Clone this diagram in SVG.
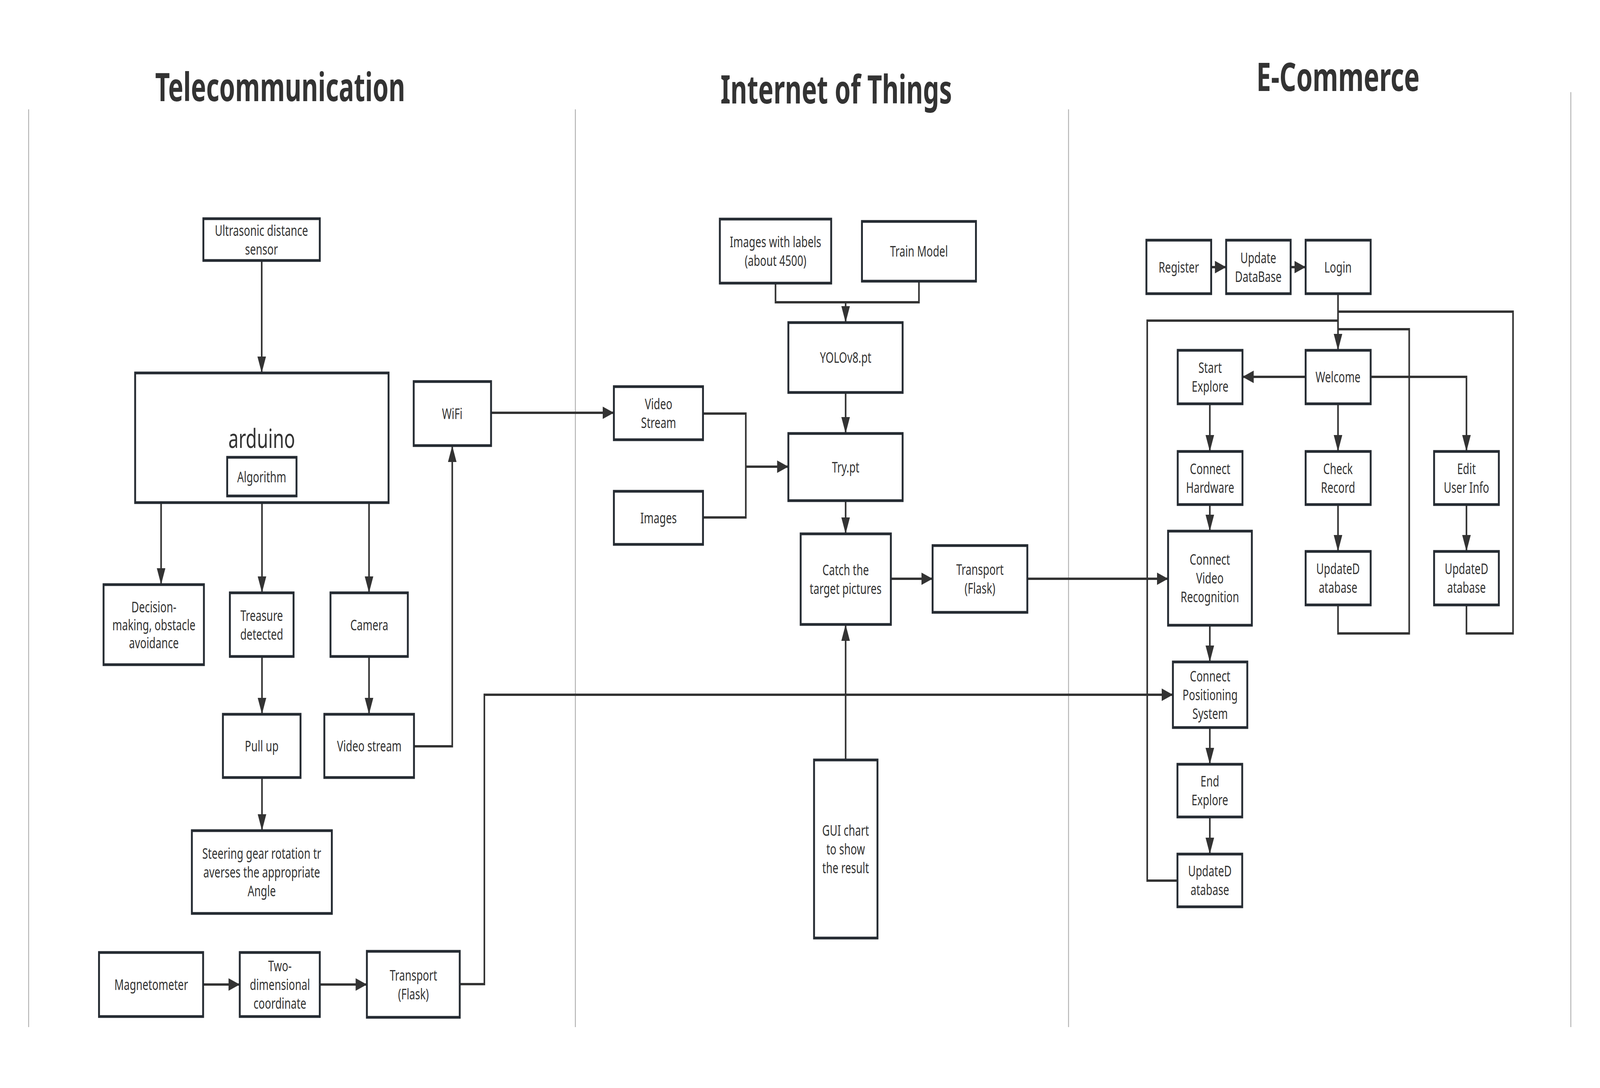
<svg xmlns="http://www.w3.org/2000/svg" width="5979" height="2786" viewBox="0 0 5979 2786" preserveAspectRatio="none" style="width:100vw;height:100vh">
<defs>
<style>
.n rect{fill:#fff;stroke:#252b32;stroke-width:7}
.t{font-family:"Noto Sans","Open Sans","DejaVu Sans",sans-serif;font-size:39px;fill:#333;text-anchor:middle}
.h{font-family:"Noto Sans","Open Sans","DejaVu Sans",sans-serif;font-size:100px;font-weight:bold;fill:#333;text-anchor:middle}
.c path{fill:none;stroke:#333;stroke-width:6}
.c .a{marker-end:url(#ar)}
.d line{stroke:#a8a8a8;stroke-width:3}
</style>
<marker id="ar" markerUnits="userSpaceOnUse" markerWidth="44" markerHeight="32" refX="42" refY="16" orient="auto">
<path d="M0,0 L42,16 L0,32 z" fill="#333"/>
</marker>
</defs>
<rect width="5979" height="2786" fill="#fff"/>

<g id="dividers" class="d">
<line x1="107" y1="280" x2="107" y2="2630"/>
<line x1="2150" y1="280" x2="2150" y2="2630"/>
<line x1="3993" y1="280" x2="3993" y2="2630"/>
<line x1="5870" y1="236" x2="5870" y2="2630"/>
</g>

<g id="titles">
<text class="h" x="1047" y="259" textLength="934" lengthAdjust="spacingAndGlyphs">Telecommunication</text>
<text class="h" x="3125" y="265" textLength="865" lengthAdjust="spacingAndGlyphs">Internet of Things</text>
<text class="h" x="5000" y="233" textLength="610" lengthAdjust="spacingAndGlyphs">E-Commerce</text>
</g>

<g id="connectors" class="c">
<path class="a" d="M978,667 V955"/>
<path class="a" d="M602,1287 V1497"/>
<path class="a" d="M979,1287 V1518"/>
<path class="a" d="M1379,1287 V1518"/>
<path class="a" d="M979,1681 V1829"/>
<path class="a" d="M1379,1681 V1829"/>
<path class="a" d="M979,1991 V2127"/>
<path class="a" d="M1547,1911 H1690 V1141"/>
<path class="a" d="M1835,1057 H2294"/>
<path class="a" d="M759,2521 H896"/>
<path class="a" d="M1195,2521 H1371"/>
<path class="a" d="M1718,2520 H1810 V1779 H4383"/>
<path d="M2898,725 V774 H3434 V720"/>
<path class="a" d="M3160,774 V826"/>
<path class="a" d="M3160,1005 V1110"/>
<path d="M2627,1059 H2787 V1325 H2627"/>
<path class="a" d="M2787,1195 H2946"/>
<path class="a" d="M3160,1282 V1367"/>
<path class="a" d="M3329,1482 H3485"/>
<path class="a" d="M3839,1482 H4365"/>
<path class="a" d="M3160,1946 V1599"/>
<path class="a" d="M4526,684 H4582"/>
<path class="a" d="M4823,684 H4879"/>
<path class="a" d="M5000,752 V897"/>
<path d="M5000,798 H5654 V1622 H5480 V1549"/>
<path d="M5000,843 H5266 V1622 H5000 V1549"/>
<path d="M5000,821 H4287 V2255 H4400"/>
<path class="a" d="M4879,965 H4643"/>
<path class="a" d="M5122,965 H5480 V1156"/>
<path class="a" d="M5000,1034 V1156"/>
<path class="a" d="M5000,1292 V1412"/>
<path class="a" d="M5480,1292 V1412"/>
<path class="a" d="M4521,1034 V1156"/>
<path class="a" d="M4521,1292 V1360"/>
<path class="a" d="M4521,1601 V1695"/>
<path class="a" d="M4521,1863 V1957"/>
<path class="a" d="M4521,2092 V2187"/>
</g>

<g id="ultrasonic" class="n"><rect x="760" y="560" width="435" height="107"/><text class="t"><tspan x="977" y="604">Ultrasonic distance</tspan><tspan x="977" y="652">sensor</tspan></text></g>
<g id="arduino" class="n"><rect x="505" y="955" width="947" height="332"/><text class="t" x="978" y="1147" style="font-size:68px">arduino</text></g>
<g id="algorithm" class="n"><rect x="849" y="1171" width="259" height="99"/><text class="t" x="978" y="1235">Algorithm</text></g>
<g id="wifi" class="n"><rect x="1546" y="977" width="289" height="164"/><text class="t" x="1690" y="1073">WiFi</text></g>
<g id="decision" class="n"><rect x="387" y="1497" width="375" height="205"/><text class="t"><tspan x="575" y="1568">Decision-</tspan><tspan x="575" y="1614">making, obstacle</tspan><tspan x="575" y="1660">avoidance</tspan></text></g>
<g id="treasure" class="n"><rect x="859" y="1518" width="238" height="163"/><text class="t"><tspan x="978" y="1590">Treasure</tspan><tspan x="978" y="1638">detected</tspan></text></g>
<g id="camera" class="n"><rect x="1235" y="1518" width="289" height="163"/><text class="t" x="1380" y="1614">Camera</text></g>
<g id="pullup" class="n"><rect x="833" y="1829" width="290" height="162"/><text class="t" x="978" y="1924">Pull up</text></g>
<g id="videostream-l" class="n"><rect x="1212" y="1829" width="335" height="162"/><text class="t" x="1380" y="1924">Video stream</text></g>
<g id="steering" class="n"><rect x="717" y="2127" width="523" height="212"/><text class="t"><tspan x="978" y="2199">Steering gear rotation tr</tspan><tspan x="978" y="2247">averses the appropriate</tspan><tspan x="978" y="2295">Angle</tspan></text></g>
<g id="magnetometer" class="n"><rect x="370" y="2439" width="389" height="164"/><text class="t" x="565" y="2535">Magnetometer</text></g>
<g id="twodim" class="n"><rect x="896" y="2439" width="299" height="164"/><text class="t"><tspan x="1046" y="2487">Two-</tspan><tspan x="1046" y="2535">dimensional</tspan><tspan x="1046" y="2583">coordinate</tspan></text></g>
<g id="transport-l" class="n"><rect x="1371" y="2436" width="347" height="169"/><text class="t"><tspan x="1545" y="2511">Transport</tspan><tspan x="1545" y="2559">(Flask)</tspan></text></g>

<g id="images-labels" class="n"><rect x="2690" y="561" width="416" height="164"/><text class="t"><tspan x="2898" y="633">Images with labels</tspan><tspan x="2898" y="681">(about 4500)</tspan></text></g>
<g id="train" class="n"><rect x="3221" y="567" width="426" height="153"/><text class="t" x="3434" y="657">Train Model</text></g>
<g id="yolo" class="n"><rect x="2946" y="826" width="427" height="179"/><text class="t" x="3160" y="929">YOLOv8.pt</text></g>
<g id="try" class="n"><rect x="2946" y="1110" width="427" height="172"/><text class="t" x="3160" y="1210">Try.pt</text></g>
<g id="videostream-m" class="n"><rect x="2294" y="990" width="333" height="136"/><text class="t"><tspan x="2461" y="1048">Video</tspan><tspan x="2461" y="1096">Stream</tspan></text></g>
<g id="images" class="n"><rect x="2294" y="1258" width="333" height="136"/><text class="t" x="2461" y="1340">Images</text></g>
<g id="catch" class="n"><rect x="2992" y="1367" width="337" height="232"/><text class="t"><tspan x="3160" y="1473">Catch the</tspan><tspan x="3160" y="1521">target pictures</tspan></text></g>
<g id="transport-m" class="n"><rect x="3485" y="1397" width="354" height="171"/><text class="t"><tspan x="3662" y="1472">Transport</tspan><tspan x="3662" y="1520">(Flask)</tspan></text></g>
<g id="gui" class="n"><rect x="3042" y="1946" width="237" height="456"/><text class="t"><tspan x="3160" y="2140">GUI chart</tspan><tspan x="3160" y="2188">to show</tspan><tspan x="3160" y="2236">the result</tspan></text></g>

<g id="register" class="n"><rect x="4284" y="615" width="242" height="137"/><text class="t" x="4405" y="698">Register</text></g>
<g id="updatedb" class="n"><rect x="4582" y="615" width="241" height="137"/><text class="t"><tspan x="4702" y="674">Update</tspan><tspan x="4702" y="722">DataBase</tspan></text></g>
<g id="login" class="n"><rect x="4879" y="615" width="243" height="137"/><text class="t" x="5000" y="698">Login</text></g>
<g id="welcome" class="n"><rect x="4879" y="897" width="243" height="137"/><text class="t" x="5000" y="979">Welcome</text></g>
<g id="start" class="n"><rect x="4401" y="897" width="242" height="137"/><text class="t"><tspan x="4522" y="955">Start</tspan><tspan x="4522" y="1003">Explore</tspan></text></g>
<g id="hardware" class="n"><rect x="4401" y="1156" width="242" height="136"/><text class="t"><tspan x="4522" y="1214">Connect</tspan><tspan x="4522" y="1262">Hardware</tspan></text></g>
<g id="check" class="n"><rect x="4879" y="1156" width="243" height="136"/><text class="t"><tspan x="5000" y="1214">Check</tspan><tspan x="5000" y="1262">Record</tspan></text></g>
<g id="edit" class="n"><rect x="5359" y="1156" width="242" height="136"/><text class="t"><tspan x="5480" y="1214">Edit</tspan><tspan x="5480" y="1262">User Info</tspan></text></g>
<g id="cvr" class="n"><rect x="4365" y="1360" width="313" height="241"/><text class="t"><tspan x="4521" y="1446">Connect</tspan><tspan x="4521" y="1494">Video</tspan><tspan x="4521" y="1542">Recognition</tspan></text></g>
<g id="upd-check" class="n"><rect x="4879" y="1412" width="243" height="137"/><text class="t"><tspan x="5000" y="1470">UpdateD</tspan><tspan x="5000" y="1518">atabase</tspan></text></g>
<g id="upd-edit" class="n"><rect x="5359" y="1412" width="242" height="137"/><text class="t"><tspan x="5480" y="1470">UpdateD</tspan><tspan x="5480" y="1518">atabase</tspan></text></g>
<g id="cps" class="n"><rect x="4383" y="1695" width="278" height="168"/><text class="t"><tspan x="4522" y="1745">Connect</tspan><tspan x="4522" y="1793">Positioning</tspan><tspan x="4522" y="1841">System</tspan></text></g>
<g id="end" class="n"><rect x="4400" y="1957" width="242" height="135"/><text class="t"><tspan x="4521" y="2014">End</tspan><tspan x="4521" y="2062">Explore</tspan></text></g>
<g id="upd-end" class="n"><rect x="4400" y="2187" width="242" height="135"/><text class="t"><tspan x="4521" y="2244">UpdateD</tspan><tspan x="4521" y="2292">atabase</tspan></text></g>
</svg>
